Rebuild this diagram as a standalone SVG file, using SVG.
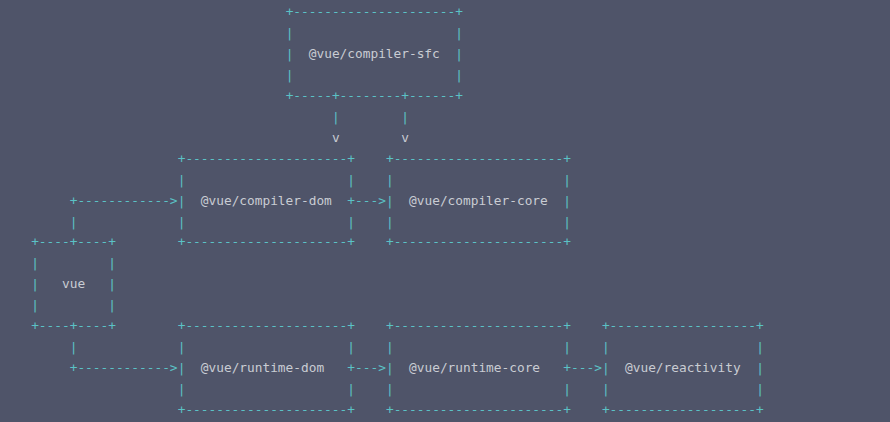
<svg xmlns="http://www.w3.org/2000/svg" width="890" height="422" viewBox="0 0 890 422">
<style>
text{font-family:"DejaVu Sans Mono","Liberation Mono",monospace;font-size:12.81px;white-space:pre}
.l{fill:#5bc2c6}
.t{fill:#c9ccd3}
</style>
<rect width="890" height="422" fill="#4f5469"/>
<g id="compiler-sfc">
<text class="l" x="285.67" y="16">+---------------------+</text>
<text class="l" x="285.67" y="36.95">|</text><text class="l" x="455.35" y="36.95">|</text>
<text class="l" x="285.67" y="57.9">|</text><text class="t" x="308.81" y="57.9">@vue/compiler-sfc</text><text class="l" x="455.35" y="57.9">|</text>
<text class="l" x="285.67" y="78.85">|</text><text class="l" x="455.35" y="78.85">|</text>
<text class="l" x="285.67" y="99.8">+-----+--------+------+</text>
</g>
<g id="compiler-dom">
<text class="l" x="177.69" y="162.65">+---------------------+</text>
<text class="l" x="177.69" y="183.6">|</text><text class="l" x="347.37" y="183.6">|</text>
<text class="l" x="177.69" y="204.55">|</text><text class="t" x="200.83" y="204.55">@vue/compiler-dom</text><text class="l" x="347.37" y="204.55">+</text>
<text class="l" x="177.69" y="225.5">|</text><text class="l" x="347.37" y="225.5">|</text>
<text class="l" x="177.69" y="246.45">+---------------------+</text>
</g>
<g id="compiler-core">
<text class="l" x="385.94" y="162.65">+----------------------+</text>
<text class="l" x="385.94" y="183.6">|</text><text class="l" x="563.34" y="183.6">|</text>
<text class="l" x="385.94" y="204.55">|</text><text class="t" x="409.08" y="204.55">@vue/compiler-core</text><text class="l" x="563.34" y="204.55">|</text>
<text class="l" x="385.94" y="225.5">|</text><text class="l" x="563.34" y="225.5">|</text>
<text class="l" x="385.94" y="246.45">+----------------------+</text>
</g>
<g id="vue">
<text class="l" x="31.14" y="246.45">+----+----+</text>
<text class="l" x="31.14" y="267.4">|</text><text class="l" x="108.27" y="267.4">|</text>
<text class="l" x="31.14" y="288.35">|</text><text class="t" x="61.99" y="288.35">vue</text><text class="l" x="108.27" y="288.35">|</text>
<text class="l" x="31.14" y="309.3">|</text><text class="l" x="108.27" y="309.3">|</text>
<text class="l" x="31.14" y="330.25">+----+----+</text>
</g>
<g id="runtime-dom">
<text class="l" x="177.69" y="330.25">+---------------------+</text>
<text class="l" x="177.69" y="351.2">|</text><text class="l" x="347.37" y="351.2">|</text>
<text class="l" x="177.69" y="372.15">|</text><text class="t" x="200.83" y="372.15">@vue/runtime-dom</text><text class="l" x="347.37" y="372.15">+</text>
<text class="l" x="177.69" y="393.1">|</text><text class="l" x="347.37" y="393.1">|</text>
<text class="l" x="177.69" y="414.05">+---------------------+</text>
</g>
<g id="runtime-core">
<text class="l" x="385.94" y="330.25">+----------------------+</text>
<text class="l" x="385.94" y="351.2">|</text><text class="l" x="563.34" y="351.2">|</text>
<text class="l" x="385.94" y="372.15">|</text><text class="t" x="409.08" y="372.15">@vue/runtime-core</text><text class="l" x="563.34" y="372.15">+</text>
<text class="l" x="385.94" y="393.1">|</text><text class="l" x="563.34" y="393.1">|</text>
<text class="l" x="385.94" y="414.05">+----------------------+</text>
</g>
<g id="reactivity">
<text class="l" x="601.90" y="330.25">+-------------------+</text>
<text class="l" x="601.90" y="351.2">|</text><text class="l" x="756.16" y="351.2">|</text>
<text class="l" x="601.90" y="372.15">|</text><text class="t" x="625.04" y="372.15">@vue/reactivity</text><text class="l" x="756.16" y="372.15">|</text>
<text class="l" x="601.90" y="393.1">|</text><text class="l" x="756.16" y="393.1">|</text>
<text class="l" x="601.90" y="414.05">+-------------------+</text>
</g>
<g id="connectors">
<text class="l" x="331.95" y="120.75">|</text><text class="l" x="401.36" y="120.75">|</text>
<text class="t" x="331.95" y="141.7">v</text><text class="t" x="401.36" y="141.7">v</text>
<text class="l" x="69.70" y="204.55">+------------&gt;</text>
<text class="l" x="69.70" y="225.5">|</text>
<text class="l" x="355.09" y="204.55">---&gt;</text>
<text class="l" x="69.70" y="351.2">|</text>
<text class="l" x="69.70" y="372.15">+------------&gt;</text>
<text class="l" x="355.09" y="372.15">---&gt;</text>
<text class="l" x="571.05" y="372.15">---&gt;</text>
</g>
</svg>
